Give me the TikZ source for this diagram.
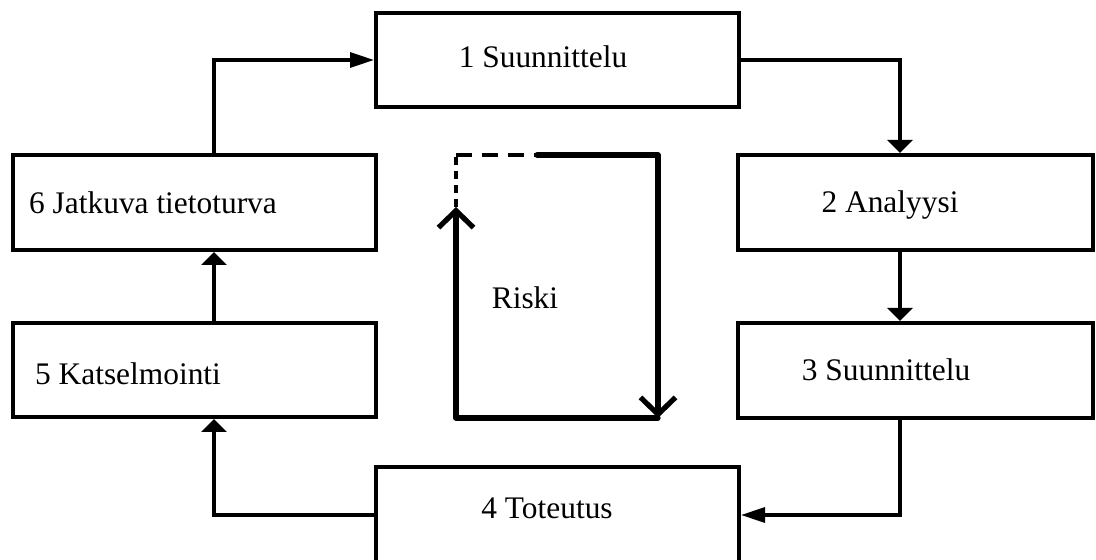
\documentclass[tikz,border=0pt]{standalone}
\usepackage{fontspec}
\setmainfont{Liberation Serif}
\usetikzlibrary{arrows.meta}
\begin{document}
\begin{tikzpicture}[x=0.5pt,y=-0.5pt,
  box/.style 2 args={draw, line width=2pt, minimum width=#1*0.5pt, minimum height=#2*0.5pt, inner sep=0pt},
  label/.style={font=\fontsize{15.7pt}{18pt}\selectfont, inner sep=0pt},
  vflow/.style={line width=1.75pt, -{Triangle[length=6.5pt,width=12.5pt]}},
  hflow/.style={line width=1.6pt, -{Triangle[length=12pt,width=7.5pt]}},
  loopline/.style={line width=2.6pt, line cap=round, line join=round},
  looptip/.style={-{Straight Barb[length=8.5pt,width=17.5pt,line width=2.6pt]}},
  loopdash/.style={line width=2.2pt}]
  \useasboundingbox (0,0) rectangle (1096,560);

  % process boxes (the lowest one runs past the bottom edge)
  \node[box={363}{94}]  (b1) at (557.5,60) {};
  \node[box={355}{95}]  (b2) at (915.5,202.5) {};
  \node[box={355}{95}]  (b3) at (915.5,370.5) {};
  \node[box={363}{110}] (b4) at (557.5,522) {};
  \node[box={363}{94}]  (b5) at (194.5,370) {};
  \node[box={363}{95}]  (b6) at (194.5,202.5) {};

  % box captions
  \node[label] (t1) at (543,57) {1 Suunnittelu};
  \node[label] (t2) at (890,205) {2 Analyysi};
  \node[label] (t3) at (886,370) {3 Suunnittelu};
  \node[label] (t4) at (547,508) {4 Toteutus};
  \node[label] (t5) at (128,374) {5 Katselmointi};
  \node[label] (t6) at (153,203) {6 Jatkuva tietoturva};
  \node[label] (tr) at (525,298) {Riski};

  % guide lines for the cycle connectors
  \coordinate (colL) at (214,0);
  \coordinate (colR) at (900,0);
  \coordinate (rowT) at (0,60);
  \coordinate (rowB) at (0,515);

  % cycle connectors
  \draw[hflow] (b6.north -| colL) -- (colL |- rowT) -- (b1.west |- rowT);
  \draw[vflow] (b1.east |- rowT) -- (colR |- rowT) -- (b2.north -| colR);
  \draw[vflow] (b2.south -| colR) -- (b3.north -| colR);
  \draw[hflow] (b3.south -| colR) -- (colR |- rowB) -- (b4.east |- rowB);
  \draw[vflow] (b4.west |- rowB) -- (colL |- rowB) -- (b5.south -| colL);
  \draw[vflow] (b5.north -| colL) -- (b6.south -| colL);

  % risk loop
  \coordinate (r1) at (537,155);
  \coordinate (r2) at (658,155);
  \coordinate (r3) at (658,418);
  \coordinate (r4) at (456,418);
  \coordinate (r5) at (456,207);
  \coordinate (r6) at (456,155);
  \draw[loopline, looptip] (r1) -- (r2) -- (r3);
  \draw[loopline, looptip] (r3) -- (r4) -- (r5);
  \draw[loopdash, dash pattern=on 4pt off 3pt] (r5) -- (r6);
  \draw[loopdash, dash pattern=on 8pt off 5pt] (r6) -- (r1);
\end{tikzpicture}
\end{document}
